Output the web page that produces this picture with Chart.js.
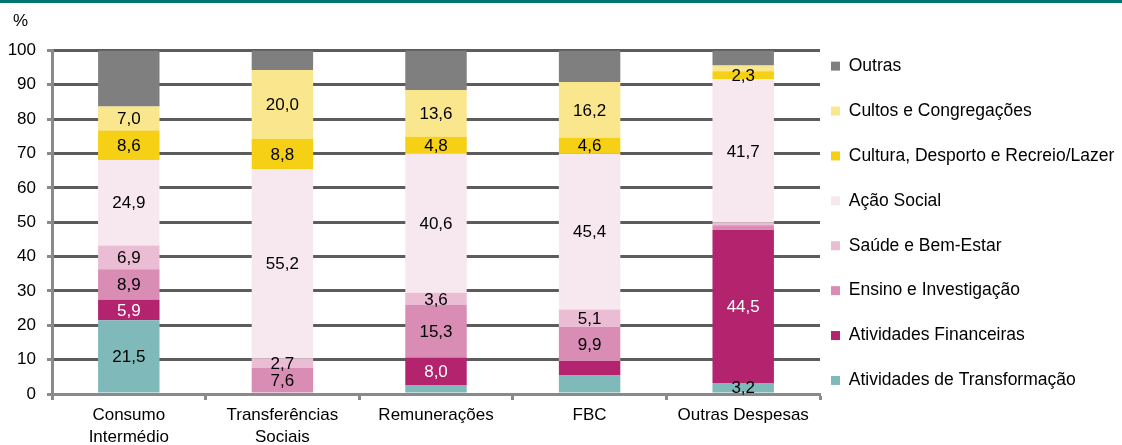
<!DOCTYPE html>
<html lang="pt">
<head>
<meta charset="utf-8">
<title>Estrutura da despesa por atividade</title>
<script src="https://cdn.jsdelivr.net/npm/chart.js@4.4.1/dist/chart.umd.min.js"></script>
<style>
    html, body { margin: 0; padding: 0; background: #fff; }
    #wrap { width: 1122px; height: 445px; }
</style>
</head>
<body>
<div id="wrap"><canvas id="chart" width="1122" height="445"></canvas></div>
<script>
// Categories (x axis)
const categories = [['Consumo', 'Intermédio'], ['Transferências', 'Sociais'], 'Remunerações', 'FBC', 'Outras Despesas'];
const yTicks = [0, 10, 20, 30, 40, 50, 60, 70, 80, 90, 100];
const unitLabel = '%';

// Series values (%), bottom to top
const transformacao = [21.5, 0, 2.6, 5.5, 3.2];
const financeiras = [5.9, 0, 8.0, 4.1, 44.5];
const ensino = [8.9, 7.6, 15.3, 9.9, 1.4];
const saude = [6.9, 2.7, 3.6, 5.1, 0.8];
const acaoSocial = [24.9, 55.2, 40.6, 45.4, 41.7];
const cultura = [8.6, 8.8, 4.8, 4.6, 2.3];
const cultos = [7.0, 20.0, 13.6, 16.2, 1.7];
const outras = [16.3, 5.7, 11.5, 9.2, 4.4];

// Which values carry a label in the original
const labelsTransformacao = [1, 0, 0, 0, 1];
const labelsFinanceiras = [1, 0, 1, 0, 1];
const labelsEnsino = [1, 1, 1, 1, 0];
const labelsSaude = [1, 1, 1, 1, 0];
const labelsAcao = [1, 1, 1, 1, 1];
const labelsCultura = [1, 1, 1, 1, 1];
const labelsCultos = [1, 1, 1, 1, 0];
const labelsOutras = [0, 0, 0, 0, 0];

const FONT = '"Liberation Sans", Arial, sans-serif';

function series(label, data, color, shown, labelColor) {
    return {
        label: label,
        data: data,
        backgroundColor: color,
        borderWidth: 0,
        showLabel: shown,
        labelColor: labelColor || '#000'
    };
}

// Teal rule across the top and the unit label above the y axis
const frame = {
    id: 'frame',
    beforeDraw(chart) {
        const ctx = chart.ctx;
        ctx.save();
        ctx.fillStyle = '#007570';
        ctx.fillRect(0, 0, chart.width, 3);
        ctx.fillStyle = '#000';
        ctx.font = '17px ' + FONT;
        ctx.textAlign = 'left';
        ctx.textBaseline = 'middle';
        ctx.fillText(unitLabel, 13, 21);
        ctx.restore();
    }
};

// Value labels in the middle of each segment
const valueLabels = {
    id: 'valueLabels',
    afterDatasetsDraw(chart) {
        const ctx = chart.ctx;
        ctx.save();
        ctx.font = '17px ' + FONT;
        ctx.textAlign = 'center';
        ctx.textBaseline = 'middle';
        chart.data.datasets.forEach((ds, i) => {
            const meta = chart.getDatasetMeta(i);
            meta.data.forEach((bar, j) => {
                if (!ds.showLabel[j]) return;
                ctx.fillStyle = ds.labelColor;
                ctx.fillText(ds.data[j].toFixed(1).replace('.', ','), bar.x, (bar.y + bar.base) / 2 + 1);
            });
        });
        ctx.restore();
    }
};

const ctx = document.getElementById('chart').getContext('2d');
new Chart(ctx, {
    type: 'bar',
    data: {
        labels: categories,
        datasets: [
            series('Atividades de Transformação', transformacao, '#7fb9b9', labelsTransformacao),
            series('Atividades Financeiras', financeiras, '#b4246e', labelsFinanceiras, '#fff'),
            series('Ensino e Investigação', ensino, '#d98db5', labelsEnsino),
            series('Saúde e Bem-Estar', saude, '#ebbdd4', labelsSaude),
            series('Ação Social', acaoSocial, '#f7e7ef', labelsAcao),
            series('Cultura, Desporto e Recreio/Lazer', cultura, '#f6d015', labelsCultura),
            series('Cultos e Congregações', cultos, '#fae68c', labelsCultos),
            series('Outras', outras, '#7f7f7f', labelsOutras)
        ]
    },
    options: {
        responsive: false,
        animation: false,
        events: [],
        layout: { padding: { left: 4, top: 0, right: 0, bottom: 0 } },
        datasets: {
            bar: { categoryPercentage: 1, barPercentage: 0.4 }
        },
        plugins: {
            tooltip: { enabled: false },
            // empty title only reserves the band above the plot
            title: {
                display: true,
                text: '',
                font: { family: FONT, size: 17, lineHeight: 1.2 },
                padding: { top: 10, bottom: 20 }
            },
            legend: {
                position: 'right',
                align: 'start',
                reverse: true,
                maxWidth: 302,
                title: {
                    display: true,
                    text: '',
                    font: { family: FONT, size: 17, lineHeight: 1.2 },
                    padding: { top: 26, bottom: 0 }
                },
                labels: {
                    boxWidth: 9,
                    boxHeight: 9,
                    padding: 11,
                    color: '#000',
                    font: { family: FONT, size: 17.5, lineHeight: 1.937 },
                    // one-line arrays so the row height follows the font lineHeight
                    generateLabels(chart) {
                        return Chart.defaults.plugins.legend.labels.generateLabels(chart)
                            .map(item => ({ ...item, text: [item.text] }));
                    }
                }
            }
        },
        scales: {
            x: {
                stacked: true,
                grid: {
                    drawOnChartArea: false,
                    drawTicks: true,
                    tickLength: 6,
                    tickColor: '#8a8a8a',
                    tickWidth: 3
                },
                border: { color: '#8a8a8a', width: 3 },
                ticks: {
                    color: '#000',
                    font: { family: FONT, size: 17, lineHeight: 1.3 },
                    padding: 4,
                    maxRotation: 0,
                    autoSkip: false
                },
                afterFit(scale) { scale.height = 51; }
            },
            y: {
                stacked: true,
                min: yTicks[0],
                max: yTicks[yTicks.length - 1],
                afterBuildTicks(scale) { scale.ticks = yTicks.map(v => ({ value: v })); },
                ticks: {
                    color: '#000',
                    font: { family: FONT, size: 17 },
                    padding: 11
                },
                grid: {
                    color: c => (c.tick && c.tick.value === 0) ? 'rgba(0,0,0,0)' : '#5c5c5c',
                    lineWidth: 3,
                    tickLength: 5,
                    tickColor: '#8a8a8a',
                    tickWidth: 3
                },
                border: { color: '#8a8a8a', width: 3 },
                afterFit(scale) { scale.width = 48; }
            }
        }
    },
    plugins: [frame, valueLabels]
});
</script>
</body>
</html>
